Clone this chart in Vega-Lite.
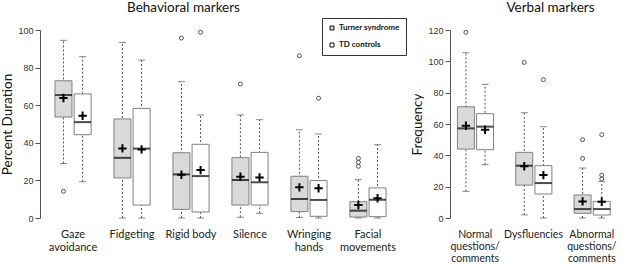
{
  "$schema": "https://vega.github.io/schema/vega-lite/v6.json",
  "padding": {"left": 0, "top": 0, "right": 0, "bottom": 0},
  "background": "white",
  "spacing": 9,
  "config": {
    "view": {"stroke": null},
    "axis": {"grid": false, "labelOverlap": false},
    "axisY": {"labelOverlap": false, "labelFont": "Liberation Sans", "labelFontSize": 9, "labelColor": "#333", "tickColor": "#555", "domainColor": "#555", "tickSize": 5, "labelPadding": 2,
              "titleFont": "Lato", "titleFontSize": 13.5, "titleFontWeight": "normal", "titleColor": "#111", "titlePadding": 3},
    "font": "Lato",
    "legend": {"fillColor": "white"}
  },
  "datasets": {
    "boxesB": [
      {"category": "Gaze avoidance", "group": "Turner syndrome", "lower": 29, "q1": 53.7, "median": 65.4, "q3": 73, "upper": 94.5, "mean": 63.8},
      {"category": "Gaze avoidance", "group": "TD controls", "lower": 19.3, "q1": 44.3, "median": 51, "q3": 66, "upper": 85.8, "mean": 54.4},
      {"category": "Fidgeting", "group": "Turner syndrome", "lower": 0, "q1": 21.3, "median": 32, "q3": 52.7, "upper": 93.4, "mean": 37},
      {"category": "Fidgeting", "group": "TD controls", "lower": 0, "q1": 6.9, "median": 36.9, "q3": 58.3, "upper": 84, "mean": 36.5},
      {"category": "Rigid body", "group": "Turner syndrome", "lower": 0, "q1": 4.6, "median": 23.2, "q3": 34.7, "upper": 72.5, "mean": 23},
      {"category": "Rigid body", "group": "TD controls", "lower": 0, "q1": 3.2, "median": 22.3, "q3": 39.2, "upper": 54.8, "mean": 25.5},
      {"category": "Silence", "group": "Turner syndrome", "lower": 0.4, "q1": 6.9, "median": 20.2, "q3": 32.1, "upper": 54.8, "mean": 22},
      {"category": "Silence", "group": "TD controls", "lower": 2.5, "q1": 6.9, "median": 19, "q3": 34.9, "upper": 52.3, "mean": 21.6},
      {"category": "Wringing hands", "group": "Turner syndrome", "lower": 0.2, "q1": 3.4, "median": 10.1, "q3": 22.2, "upper": 47, "mean": 16.3},
      {"category": "Wringing hands", "group": "TD controls", "lower": 0, "q1": 0.9, "median": 9.6, "q3": 19.9, "upper": 44.7, "mean": 15.8},
      {"category": "Facial movements", "group": "Turner syndrome", "lower": 0, "q1": 0.5, "median": 3.9, "q3": 8.7, "upper": 20.4, "mean": 6.9},
      {"category": "Facial movements", "group": "TD controls", "lower": 0, "q1": 0.7, "median": 9.7, "q3": 16, "upper": 39, "mean": 10.5}
    ],
    "outB": [
      {"category": "Gaze avoidance", "group": "Turner syndrome", "value": 14.2},
      {"category": "Rigid body", "group": "Turner syndrome", "value": 95.7},
      {"category": "Rigid body", "group": "TD controls", "value": 98.8},
      {"category": "Silence", "group": "Turner syndrome", "value": 71.3},
      {"category": "Wringing hands", "group": "Turner syndrome", "value": 86.3},
      {"category": "Wringing hands", "group": "TD controls", "value": 63.7},
      {"category": "Facial movements", "group": "Turner syndrome", "value": 31.7},
      {"category": "Facial movements", "group": "Turner syndrome", "value": 29.6},
      {"category": "Facial movements", "group": "Turner syndrome", "value": 27.5}
    ],
    "boxesV": [
      {"category": "Normal questions/ comments", "group": "Turner syndrome", "lower": 17, "q1": 44, "median": 57.2, "q3": 71, "upper": 105.5, "mean": 58.9},
      {"category": "Normal questions/ comments", "group": "TD controls", "lower": 34, "q1": 43.6, "median": 58.3, "q3": 66.6, "upper": 85.3, "mean": 56.3},
      {"category": "Dysfluencies", "group": "Turner syndrome", "lower": 2, "q1": 21, "median": 33.4, "q3": 41.9, "upper": 67.2, "mean": 33},
      {"category": "Dysfluencies", "group": "TD controls", "lower": 0, "q1": 15.3, "median": 22.3, "q3": 33.4, "upper": 58.3, "mean": 27.4},
      {"category": "Abnormal questions/ comments", "group": "Turner syndrome", "lower": 0, "q1": 3, "median": 5.7, "q3": 14.7, "upper": 31.9, "mean": 10.6},
      {"category": "Abnormal questions/ comments", "group": "TD controls", "lower": 0, "q1": 1.9, "median": 5.7, "q3": 10.6, "upper": 23.2, "mean": 10.4}
    ],
    "outV": [
      {"category": "Normal questions/ comments", "group": "Turner syndrome", "value": 118.5},
      {"category": "Dysfluencies", "group": "Turner syndrome", "value": 99.3},
      {"category": "Dysfluencies", "group": "TD controls", "value": 88.3},
      {"category": "Abnormal questions/ comments", "group": "Turner syndrome", "value": 50},
      {"category": "Abnormal questions/ comments", "group": "Turner syndrome", "value": 38},
      {"category": "Abnormal questions/ comments", "group": "TD controls", "value": 53.2},
      {"category": "Abnormal questions/ comments", "group": "TD controls", "value": 27.4},
      {"category": "Abnormal questions/ comments", "group": "TD controls", "value": 24.9}
    ]
  },
  "hconcat": [
    {
      "width": 361,
      "height": 188,
      "title": {"text": "Behavioral markers", "fontSize": 13.5, "font": "Lato", "fontWeight": "normal", "dx": -37, "offset": 12, "color": "#111"},
      "encoding": {
        "x": {
          "field": "category", "type": "nominal",
          "scale": {"domain": ["Gaze avoidance", "Fidgeting", "Rigid body", "Silence", "Wringing hands", "Facial movements"], "paddingInner": 0, "paddingOuter": 0.06},
          "axis": {"title": null, "domain": false, "ticks": false, "labelAngle": 0, "labelFont": "Lato", "labelFontSize": 11, "labelColor": "#222", "labelPadding": 10, "labelLineHeight": 13,
                   "labelExpr": "indexof(['Gaze avoidance','Wringing hands','Facial movements'], datum.label) >= 0 ? split(datum.label, ' ') : datum.label"}
        },
        "xOffset": {"field": "group", "type": "nominal", "scale": {"domain": ["Turner syndrome", "TD controls"], "paddingInner": 0, "paddingOuter": 0.54}}
      },
      "layer": [
        {
          "data": {"name": "boxesB"},
          "mark": {"type": "rule", "strokeDash": [2, 2], "color": "#555", "strokeWidth": 1},
          "encoding": {
            "y": {"field": "lower", "type": "quantitative", "scale": {"domain": [0, 100], "nice": false},
                  "axis": {"values": [0, 20, 40, 60, 80, 100], "labelOverlap": false, "labelSeparation": 0, "title": "Percent Duration"}},
            "y2": {"field": "upper"}
          }
        },
        {
          "data": {"name": "boxesB"},
          "mark": {"type": "tick", "size": 7, "thickness": 1, "color": "#555"},
          "encoding": {"y": {"field": "lower", "type": "quantitative", "axis": {"values": [0, 20, 40, 60, 80, 100], "labelOverlap": false, "labelSeparation": 0, "title": "Percent Duration"}}}
        },
        {
          "data": {"name": "boxesB"},
          "mark": {"type": "tick", "size": 7, "thickness": 1, "color": "#555"},
          "encoding": {"y": {"field": "upper", "type": "quantitative", "axis": {"values": [0, 20, 40, 60, 80, 100], "labelOverlap": false, "labelSeparation": 0, "title": "Percent Duration"}}}
        },
        {
          "data": {"name": "boxesB"},
          "mark": {"type": "bar", "width": 17, "stroke": "#808080", "strokeWidth": 1},
          "encoding": {
            "y": {"field": "q1", "type": "quantitative", "axis": {"values": [0, 20, 40, 60, 80, 100], "labelOverlap": false, "labelSeparation": 0, "title": "Percent Duration"}},
            "y2": {"field": "q3"},
            "color": {"field": "group", "type": "nominal",
                      "scale": {"domain": ["Turner syndrome", "TD controls"], "range": ["#d9d9d9", "#ffffff"]},
                      "legend": {"title": null, "orient": "none", "legendX": 282, "legendY": -12, "symbolType": "square", "symbolSize": 16, "symbolStrokeColor": "#111", "symbolStrokeWidth": 1,
                                 "labelFont": "Lato", "labelFontWeight": "bold", "labelFontSize": 8, "labelColor": "#111", "strokeColor": "#333", "padding": 6, "rowPadding": 9, "labelOffset": 3}}
          }
        },
        {
          "data": {"name": "boxesB"},
          "mark": {"type": "tick", "size": 17, "thickness": 2, "color": "#000"},
          "encoding": {"y": {"field": "median", "type": "quantitative", "axis": {"values": [0, 20, 40, 60, 80, 100], "labelOverlap": false, "labelSeparation": 0, "title": "Percent Duration"}}}
        },
        {
          "data": {"name": "boxesB"},
          "mark": {"type": "point", "shape": "M-1,0L1,0M0,-1L0,1", "size": 70, "filled": false, "stroke": "#000", "strokeWidth": 2, "opacity": 1},
          "encoding": {"y": {"field": "mean", "type": "quantitative", "axis": {"values": [0, 20, 40, 60, 80, 100], "labelOverlap": false, "labelSeparation": 0, "title": "Percent Duration"}}}
        },
        {
          "data": {"name": "outB"},
          "mark": {"type": "point", "shape": "circle", "size": 16, "filled": false, "stroke": "#555", "strokeWidth": 1, "opacity": 1},
          "encoding": {"y": {"field": "value", "type": "quantitative", "axis": {"values": [0, 20, 40, 60, 80, 100], "labelOverlap": false, "labelSeparation": 0, "title": "Percent Duration"}}}
        }
      ]
    },
    {
      "width": 175,
      "height": 188,
      "title": {"text": "Verbal markers", "fontSize": 13.5, "font": "Lato", "fontWeight": "normal", "dx": 17, "offset": 12, "color": "#111"},
      "encoding": {
        "x": {
          "field": "category", "type": "nominal",
          "scale": {"domain": ["Normal questions/ comments", "Dysfluencies", "Abnormal questions/ comments"], "paddingInner": 0, "paddingOuter": 0},
          "axis": {"title": null, "domain": false, "ticks": false, "labelAngle": 0, "labelFont": "Lato", "labelFontSize": 10.5, "labelColor": "#222", "labelPadding": 11, "labelLineHeight": 12,
                   "labelExpr": "datum.label == 'Dysfluencies' ? datum.label : split(datum.label, ' ')"}
        },
        "xOffset": {"field": "group", "type": "nominal", "scale": {"domain": ["Turner syndrome", "TD controls"], "paddingInner": 0, "paddingOuter": 0.54}}
      },
      "layer": [
        {
          "data": {"name": "boxesV"},
          "mark": {"type": "rule", "strokeDash": [2, 2], "color": "#555", "strokeWidth": 1},
          "encoding": {
            "y": {"field": "lower", "type": "quantitative", "scale": {"domain": [0, 120], "nice": false},
                  "axis": {"values": [0, 20, 40, 60, 80, 100, 120], "labelOverlap": false, "labelSeparation": 0, "title": "Frequency", "offset": -4}},
            "y2": {"field": "upper"}
          }
        },
        {
          "data": {"name": "boxesV"},
          "mark": {"type": "tick", "size": 7, "thickness": 1, "color": "#555"},
          "encoding": {"y": {"field": "lower", "type": "quantitative", "axis": {"values": [0, 20, 40, 60, 80, 100, 120], "labelOverlap": false, "labelSeparation": 0, "title": "Frequency", "offset": -4}}}
        },
        {
          "data": {"name": "boxesV"},
          "mark": {"type": "tick", "size": 7, "thickness": 1, "color": "#555"},
          "encoding": {"y": {"field": "upper", "type": "quantitative", "axis": {"values": [0, 20, 40, 60, 80, 100, 120], "labelOverlap": false, "labelSeparation": 0, "title": "Frequency", "offset": -4}}}
        },
        {
          "data": {"name": "boxesV"},
          "mark": {"type": "bar", "width": 17, "stroke": "#808080", "strokeWidth": 1},
          "encoding": {
            "y": {"field": "q1", "type": "quantitative", "axis": {"values": [0, 20, 40, 60, 80, 100, 120], "labelOverlap": false, "labelSeparation": 0, "title": "Frequency", "offset": -4}},
            "y2": {"field": "q3"},
            "color": {"field": "group", "type": "nominal", "scale": {"domain": ["Turner syndrome", "TD controls"], "range": ["#d9d9d9", "#ffffff"]}, "legend": null}
          }
        },
        {
          "data": {"name": "boxesV"},
          "mark": {"type": "tick", "size": 17, "thickness": 2, "color": "#000"},
          "encoding": {"y": {"field": "median", "type": "quantitative", "axis": {"values": [0, 20, 40, 60, 80, 100, 120], "labelOverlap": false, "labelSeparation": 0, "title": "Frequency", "offset": -4}}}
        },
        {
          "data": {"name": "boxesV"},
          "mark": {"type": "point", "shape": "M-1,0L1,0M0,-1L0,1", "size": 70, "filled": false, "stroke": "#000", "strokeWidth": 2, "opacity": 1},
          "encoding": {"y": {"field": "mean", "type": "quantitative", "axis": {"values": [0, 20, 40, 60, 80, 100, 120], "labelOverlap": false, "labelSeparation": 0, "title": "Frequency", "offset": -4}}}
        },
        {
          "data": {"name": "outV"},
          "mark": {"type": "point", "shape": "circle", "size": 16, "filled": false, "stroke": "#555", "strokeWidth": 1, "opacity": 1},
          "encoding": {"y": {"field": "value", "type": "quantitative", "axis": {"values": [0, 20, 40, 60, 80, 100, 120], "labelOverlap": false, "labelSeparation": 0, "title": "Frequency", "offset": -4}}}
        }
      ]
    }
  ]
}
